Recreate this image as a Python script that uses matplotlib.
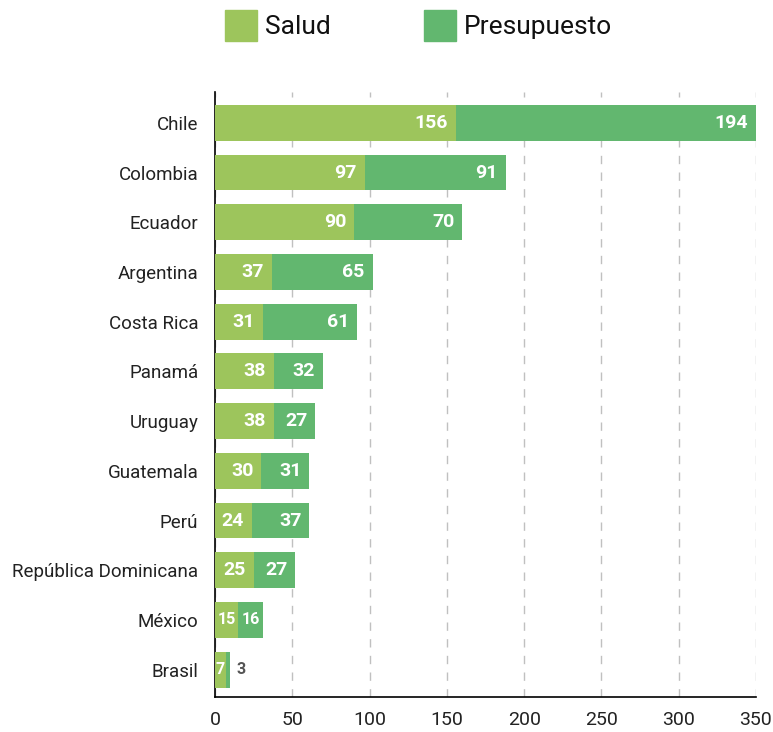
import matplotlib
matplotlib.use("Agg")
import matplotlib.pyplot as plt
from matplotlib.patches import Rectangle
from matplotlib.transforms import offset_copy

plt.rcParams['font.family'] = ['Roboto', 'DejaVu Sans']

countries = ["Chile", "Colombia", "Ecuador", "Argentina", "Costa Rica", "Panamá",
             "Uruguay", "Guatemala", "Perú", "República Dominicana", "México", "Brasil"]
salud = [156, 97, 90, 37, 31, 38, 38, 30, 24, 25, 15, 7]
presupuesto = [194, 91, 70, 65, 61, 32, 27, 31, 37, 27, 16, 3]
xticks = [0, 50, 100, 150, 200, 250, 300, 350]
series_names = ["Salud", "Presupuesto"]

c_salud = "#9dc55c"
c_pres = "#62b76f"

fig = plt.figure(figsize=(7.73, 7.32), dpi=100)
ax = fig.add_axes([215/773, 1-697/732, 541/773, 605/732])

y = list(range(len(countries)))
ax.barh(y, salud, height=0.72, color=c_salud, zorder=3)
ax.barh(y, presupuesto, left=salud, height=0.72, color=c_pres, zorder=3)

ax.set_xlim(0, 350)
ax.set_ylim(11.55, -0.62)
ax.set_yticks(y)
ax.set_yticklabels(countries, fontsize=13.5, color="#222222")
ax.set_xticks(xticks)
ax.set_xticklabels([str(t) for t in xticks], fontsize=14, color="#222222")
ax.tick_params(axis='y', length=0, pad=12)
ax.tick_params(axis='x', length=0, pad=10)

for s in ["top", "right"]:
    ax.spines[s].set_visible(False)
for s in ["left", "bottom"]:
    ax.spines[s].set_color("black")
    ax.spines[s].set_linewidth(1.2)

ax.xaxis.grid(True, linestyle=(0, (6, 6)), color="#c0c0c0", linewidth=1, zorder=0)
ax.set_axisbelow(True)

tr_left = offset_copy(ax.transData, fig=fig, x=-8, y=0, units='dots')
tr_right = offset_copy(ax.transData, fig=fig, x=6, y=0, units='dots')
for i, (s, p) in enumerate(zip(salud, presupuesto)):
    for start, v in ((0, s), (s, p)):
        end = start + v
        if v >= 20:
            ax.text(end, i, str(v), transform=tr_left, ha='right', va='center',
                    fontsize=14, fontweight='bold', color='white', zorder=5)
        elif v >= 5:
            ax.text(start + v / 2, i, str(v), ha='center', va='center',
                    fontsize=11.5, fontweight='bold', color='white', zorder=5)
        else:
            ax.text(end, i, str(v), transform=tr_right, ha='left', va='center',
                    fontsize=11.5, fontweight='bold', color='#555555', zorder=5)

# legend
for xpx, name, col in ((225, series_names[0], c_salud), (424, series_names[1], c_pres)):
    fig.patches.append(Rectangle((xpx/773, 1-41/732), 32/773, 31/732,
                                 transform=fig.transFigure, color=col, figure=fig))
    fig.text((xpx+40)/773, 1-27/732, name, fontsize=19, va='center', ha='left', color="#111111")

fig.savefig("out.png", dpi=100)
